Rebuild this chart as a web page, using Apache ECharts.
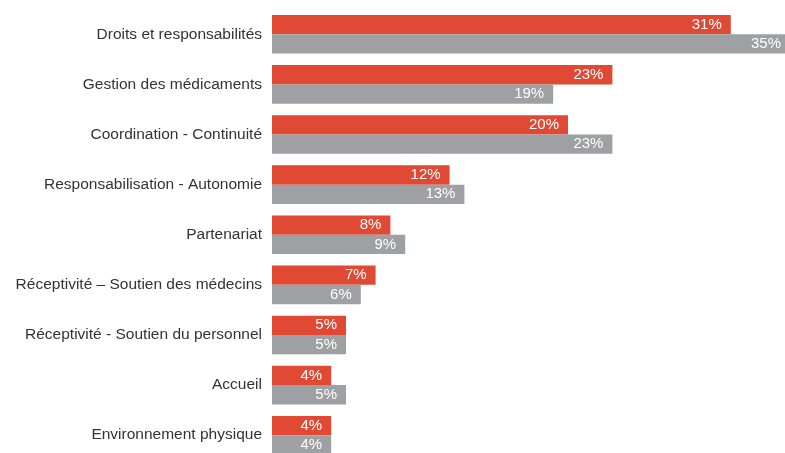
<!DOCTYPE html>
<html><head><meta charset="utf-8">
<script src="https://cdn.jsdelivr.net/npm/echarts@6/dist/echarts.min.js"></script>
<style>html,body{margin:0;padding:0;background:#fff}#c{width:785px;height:453px}</style>
</head><body><div id="c"></div>
<script>
const categories = ["Droits et responsabilités","Gestion des médicaments","Coordination - Continuité","Responsabilisation - Autonomie","Partenariat","Réceptivité – Soutien des médecins","Réceptivité - Soutien du personnel","Accueil","Environnement physique"];
const seriesRed = [31,23,20,12,8,7,5,4,4];
const seriesGray = [35,19,23,13,9,6,5,5,4];
const chart = echarts.init(document.getElementById('c'));
const lbl = {show:true, position:'insideRight', color:'#fff', fontFamily:'Liberation Sans, Arial', fontSize:15, formatter:p=>p.value+'%', distance:9};
chart.setOption({
  animation:false,
  grid:{left:272, top:9.25, width:518, height:451, containLabel:false, outerBoundsMode:'none'},
  xAxis:{type:'value', min:0, max:35, show:false},
  yAxis:{type:'category', data:categories, inverse:true, axisLine:{show:false}, axisTick:{show:false},
    axisLabel:{color:'#333', fontFamily:'Liberation Sans, Arial', fontSize:15.5, margin:10}},
  series:[
    {type:'bar', data:seriesRed, barWidth:19.3, barGap:'0%', itemStyle:{color:'#e04a35'}, label:lbl},
    {type:'bar', data:seriesGray, barWidth:19.3, barGap:'0%', itemStyle:{color:'#9ea0a3'}, label:lbl}
  ]
});
</script></body></html>
